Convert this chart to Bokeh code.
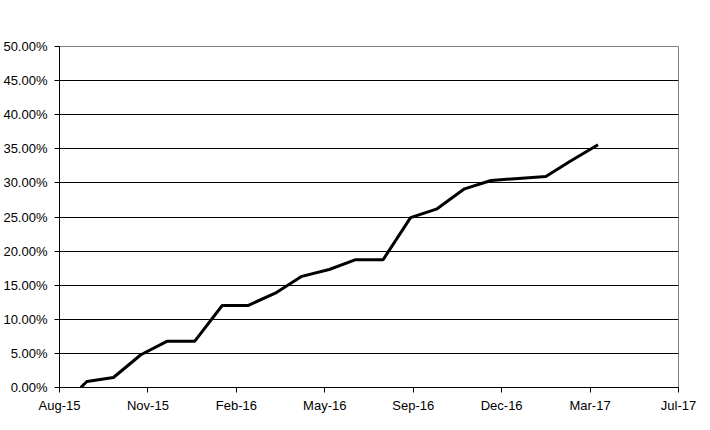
import pandas as pd
from bokeh.plotting import figure
from bokeh.models import Range1d, FixedTicker, NumeralTickFormatter, DatetimeTickFormatter
from bokeh.embed import file_html
from bokeh.resources import INLINE

# ---- data ----
dates = ["2015-08-25", "2015-09-01", "2015-10-01", "2015-11-01", "2015-12-01",
         "2016-01-01", "2016-02-01", "2016-03-01", "2016-04-01", "2016-05-01",
         "2016-06-01", "2016-07-01", "2016-08-01", "2016-09-01", "2016-10-01",
         "2016-11-01", "2016-12-01", "2017-01-01", "2017-02-01", "2017-03-01",
         "2017-04-01"]
values = [0.0, 0.0088, 0.0147, 0.048, 0.0679,
          0.0679, 0.1202, 0.1202, 0.1383, 0.163,
          0.173, 0.1875, 0.1875, 0.249, 0.262,
          0.2913, 0.3035, 0.3065, 0.3094, 0.332,
          0.356]
x_start = "2015-08-01"
x_end = "2017-07-01"
x_tick_step_days = 100
y_ticks = [0.0, 0.05, 0.10, 0.15, 0.20, 0.25, 0.30, 0.35, 0.40, 0.45, 0.50]

xd = pd.to_datetime(dates)
x0 = pd.Timestamp(x_start)
x1 = pd.Timestamp(x_end)
tick_dates = pd.date_range(x0, x1, freq=f"{x_tick_step_days}D")
tick_ms = [t.value / 1e6 for t in tick_dates]

FONT = "Liberation Sans"

p = figure(width=710, height=430, output_backend="svg", toolbar_location=None,
           x_axis_type="datetime",
           x_range=Range1d(x0, x1), y_range=Range1d(0, 0.5),
           min_border_left=58, min_border_right=32, min_border_top=46, min_border_bottom=43)

p.line(xd, values, line_color="black", line_width=3)

p.background_fill_color = "white"
p.border_fill_color = "white"
p.outline_line_color = "#808080"
p.outline_line_width = 1

# x axis
p.xaxis.ticker = FixedTicker(ticks=tick_ms)
fmt = "%b-%y"
p.xaxis.formatter = DatetimeTickFormatter(days=fmt, months=fmt, years=fmt, hours=fmt,
                                          minutes=fmt, seconds=fmt, milliseconds=fmt,
                                          microseconds=fmt, minsec=fmt, hourmin=fmt)
p.xaxis.axis_line_color = "black"
p.xaxis.major_tick_line_color = "black"
p.xaxis.major_tick_in = 0
p.xaxis.major_tick_out = 5
p.xaxis.minor_tick_line_color = None
p.xaxis.major_label_standoff = 5
p.xaxis.major_label_text_font = FONT
p.xaxis.major_label_text_font_size = "13px"
p.xaxis.major_label_text_color = "black"

# y axis
p.yaxis.ticker = FixedTicker(ticks=y_ticks)
p.yaxis.formatter = NumeralTickFormatter(format="0.00%")
p.yaxis.axis_line_color = "black"
p.yaxis.major_tick_line_color = "black"
p.yaxis.major_tick_in = 0
p.yaxis.major_tick_out = 5
p.yaxis.minor_tick_line_color = None
p.yaxis.major_label_standoff = 7
p.yaxis.major_label_text_font = FONT
p.yaxis.major_label_text_font_size = "13px"
p.yaxis.major_label_text_color = "black"

# grids
p.xgrid.grid_line_color = None
p.ygrid.ticker = FixedTicker(ticks=y_ticks[1:-1])
p.ygrid.grid_line_color = "black"
p.ygrid.grid_line_width = 1

open("out.html", "w").write(file_html(p, INLINE))
